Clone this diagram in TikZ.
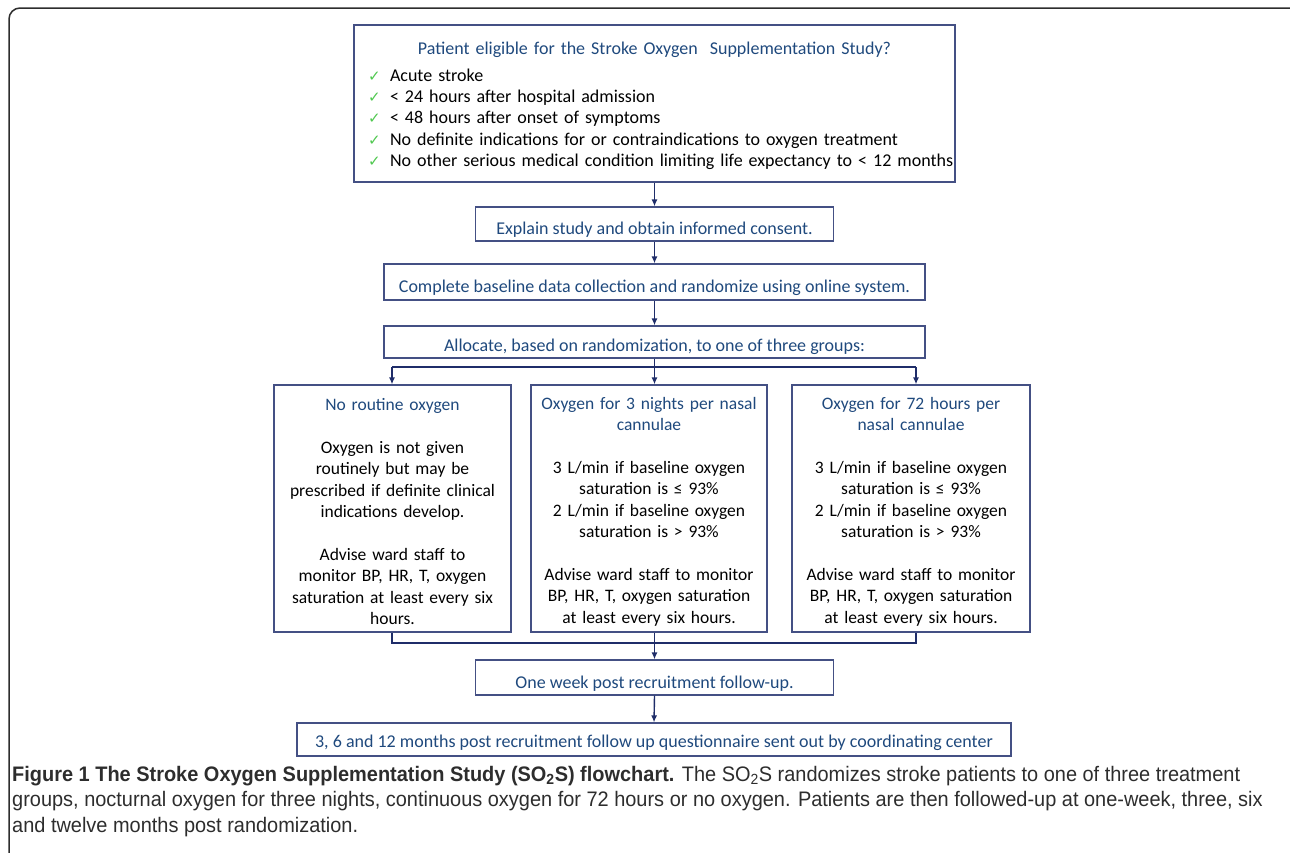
\documentclass[tikz,border=0pt]{standalone}
\usepackage{fontspec}
\setmainfont{Carlito}
\newfontfamily\tickfont{DejaVu Sans}
\newfontfamily\capfont[FakeStretch=0.95]{Liberation Sans}
\usetikzlibrary{arrows.meta,positioning,calc}
\definecolor{boxline}{RGB}{68,80,132}
\definecolor{flowline}{RGB}{31,45,105}
\definecolor{headblue}{RGB}{31,73,125}
\definecolor{tickgreen}{RGB}{80,200,80}
\definecolor{framegray}{RGB}{45,45,45}
\newcommand{\tick}[1]{\hspace*{13.5pt}\makebox[22pt][l]{\tickfont\fontsize{15}{15}\selectfont\color{tickgreen}\char"2713}\mbox{#1}}

\begin{document}
\begin{tikzpicture}[x=1pt,y=-1pt,
  box/.style={draw=boxline,line width=1.2pt,inner sep=0pt,font=\fontsize{18}{21.4}\selectfont},
  group/.style={box,minimum height=247,text width=228,align=center,font=\fontsize{17.5}{21.4}\selectfont},
  lowtext/.style={text height=#1,text depth=1pt},
  lowtext/.default=22pt,
  arr/.style={draw=flowline,line width=1.4pt,-{Latex[length=7pt,width=6pt]}},
  link/.style={draw=flowline,line width=1.4pt}]
  \useasboundingbox (0,0) rectangle (1290,852);
  \draw[framegray,line width=1.5pt,rounded corners=11pt] (9,8) rectangle (1300,890);
  % screening and allocation
  \node[box,minimum width=601,minimum height=157,text width=600,align=left] (elig) at (654.5,103.5)
    {\makebox[\linewidth]{\rule{0pt}{17pt}\color{headblue}Patient eligible for the Stroke Oxygen\ \ Supplementation Study?}\\[5.5pt]
     \tick{Acute stroke}\\
     \tick{< 24 hours after hospital admission}\\
     \tick{< 48 hours after onset of symptoms}\\
     \tick{No definite indications for or contraindications to oxygen treatment}\\
     \tick{No other serious medical condition limiting life expectancy to < 12 months}};
  \node[box,lowtext,minimum width=358,minimum height=34,text=headblue] (consent) at (654.5,224) {Explain study and obtain informed consent.};
  \node[box,lowtext,minimum width=541,minimum height=36,text=headblue] (baseline) at (654.5,282) {Complete baseline data collection and randomize using online system.};
  \node[box,lowtext=19pt,minimum width=541,minimum height=32,text=headblue] (alloc) at (654.5,342) {Allocate, based on randomization, to one of three groups:};
  % the three groups
  \node[group,minimum width=237] (nooxy) at (392.5,508.5)
    {{\rule{0pt}{18.5pt}\color{headblue}No routine oxygen}\\[21.4pt]
     Oxygen is not given\\ routinely but may be\\ prescribed if definite clinical\\ indications develop.\\[21.4pt]
     Advise ward staff to\\ monitor BP, HR, T, oxygen\\ saturation at least every six\\ hours.};
  \node[group,minimum width=236] (night) at (649,508.5)
    {{\rule{0pt}{18.5pt}\color{headblue}Oxygen for 3 nights per nasal\\ cannulae}\\[21.4pt]
     3 L/min if baseline oxygen\\ saturation is ≤ 93\%\\ 2 L/min if baseline oxygen\\ saturation is > 93\%\\[21.4pt]
     Advise ward staff to monitor\\ BP, HR, T, oxygen saturation\\ at least every six hours.};
  \node[group,minimum width=238] (hours) at (911,508.5)
    {{\rule{0pt}{18.5pt}\color{headblue}Oxygen for 72 hours per\\ nasal cannulae}\\[21.4pt]
     3 L/min if baseline oxygen\\ saturation is ≤ 93\%\\ 2 L/min if baseline oxygen\\ saturation is > 93\%\\[21.4pt]
     Advise ward staff to monitor\\ BP, HR, T, oxygen saturation\\ at least every six hours.};
  % follow-up
  \node[box,lowtext,minimum width=358,minimum height=35,text=headblue] (week) at (654.5,677.5) {One week post recruitment follow-up.};
  \node[box,lowtext=17pt,minimum width=714,minimum height=33,text=headblue] (final) at (654,739.5) {3, 6 and 12 months post recruitment follow up questionnaire sent out by coordinating center};
  % connectors
  \draw[arr] (elig.south) -- (consent.north);
  \draw[arr] (consent.south) -- (baseline.north);
  \draw[arr] (baseline.south) -- (alloc.north);
  \coordinate (splitL) at (392,367);
  \coordinate (splitR) at (916,367);
  \draw[link] (splitL) -- (splitR);
  \draw[arr] (splitL) -- (splitL |- nooxy.north);
  \draw[arr] (alloc.south) -- (alloc.south |- night.north);
  \draw[arr] (splitR) -- (splitR |- hours.north);
  \coordinate (joinL) at (392,643);
  \coordinate (joinR) at (916,643);
  \draw[link] (joinL |- nooxy.south) -- (joinL) -- (joinR) -- (joinR |- hours.south);
  \draw[arr] (night.south -| alloc.south) -- (week.north);
  \draw[arr] (week.south) -- (final.north);
  % caption
  \node[anchor=north west,inner sep=0pt,align=left,text=framegray,font=\capfont\fontsize{21}{25.5}\selectfont] (caption) at (12,766)
    {\textbf{Figure 1 The Stroke Oxygen Supplementation Study (SO\textsubscript{2}S) flowchart.} The SO\textsubscript{2}S randomizes stroke patients to one of three treatment\\
     groups, nocturnal oxygen for three nights, continuous oxygen for 72 hours or no oxygen. Patients are then followed-up at one-week, three, six\\
     and twelve months post randomization.};
\end{tikzpicture}
\end{document}
